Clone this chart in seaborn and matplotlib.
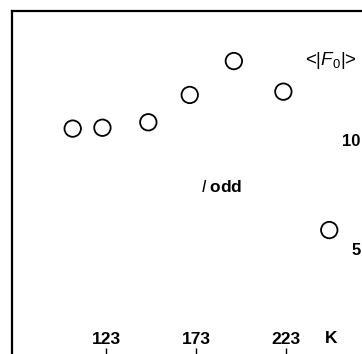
import matplotlib
matplotlib.use('Agg')
import matplotlib.pyplot as plt
import pandas as pd
import seaborn as sns

# data
temps = [104.5, 121.0, 146.5, 169.5, 194.0, 221.5, 247.0]
f0_mean = [10.52, 10.56, 10.81, 12.06, 13.61, 12.21, 5.88]
x_ticks = [123, 173, 223]
y_ticks = [5, 10]

df = pd.DataFrame({'T': temps, 'F0': f0_mean})

sns.set_style('white')
plt.rcParams['font.family'] = ['Liberation Sans', 'DejaVu Sans']
plt.rcParams['mathtext.fontset'] = 'custom'
plt.rcParams['mathtext.rm'] = 'Liberation Sans'
plt.rcParams['mathtext.it'] = 'Liberation Sans:italic'
plt.rcParams['text.color'] = 'black'
plt.rcParams['axes.labelcolor'] = 'black'
plt.rcParams['xtick.color'] = 'black'
plt.rcParams['ytick.color'] = 'black'

fs = 12.5

fig = plt.figure(figsize=(3.62, 3.54), dpi=100)
# axes runs off the right and bottom edges of the picture on purpose
ax = fig.add_axes([12 / 362, -4.6 / 354, 354 / 362, 347.6 / 354])

sns.scatterplot(data=df, x='T', y='F0', ax=ax, s=140, marker='o',
                facecolors='none', edgecolor='black', linewidth=1.3)

ax.set_xlim(70.78, 267.4)
ax.set_ylim(0, 15.9)

for side in ['left', 'top']:
    ax.spines[side].set_linewidth(1.6)
    ax.spines[side].set_color('black')
ax.spines['right'].set_visible(False)
ax.spines['bottom'].set_visible(False)

ax.set_xticks(x_ticks)
ax.set_xticklabels([str(t) for t in x_ticks], fontweight='bold', fontsize=fs)
ax.tick_params(axis='x', direction='in', length=8, width=1, color='black',
               pad=-19, bottom=True)

ax.yaxis.tick_right()
ax.set_yticks(y_ticks)
ax.set_yticklabels([str(t) for t in y_ticks], fontweight='bold', fontsize=12)
ax.tick_params(axis='y', length=0, pad=-4)
for lab in ax.get_yticklabels():
    lab.set_horizontalalignment('right')

ax.set_xlabel('K', fontweight='bold', fontsize=fs)
ax.xaxis.set_label_coords((331.5 - 12) / 354, (358.6 - 331) / 347.6)
ax.xaxis.label.set_va('top')

ax.set_ylabel(r'<|$\mathit{F}_0$|>', rotation=0, fontsize=13.5)
ax.yaxis.set_label_coords((331 - 12) / 354, (358.6 - 61) / 347.6)
ax.yaxis.label.set_ha('center')
ax.yaxis.label.set_va('center')

ax.text((221.5 - 12) / 354, (358.6 - 187) / 347.6, r'$\mathit{l}$ odd',
        transform=ax.transAxes, ha='center', va='center',
        fontweight='bold', fontsize=fs)

fig.savefig('out.png', dpi=100)
